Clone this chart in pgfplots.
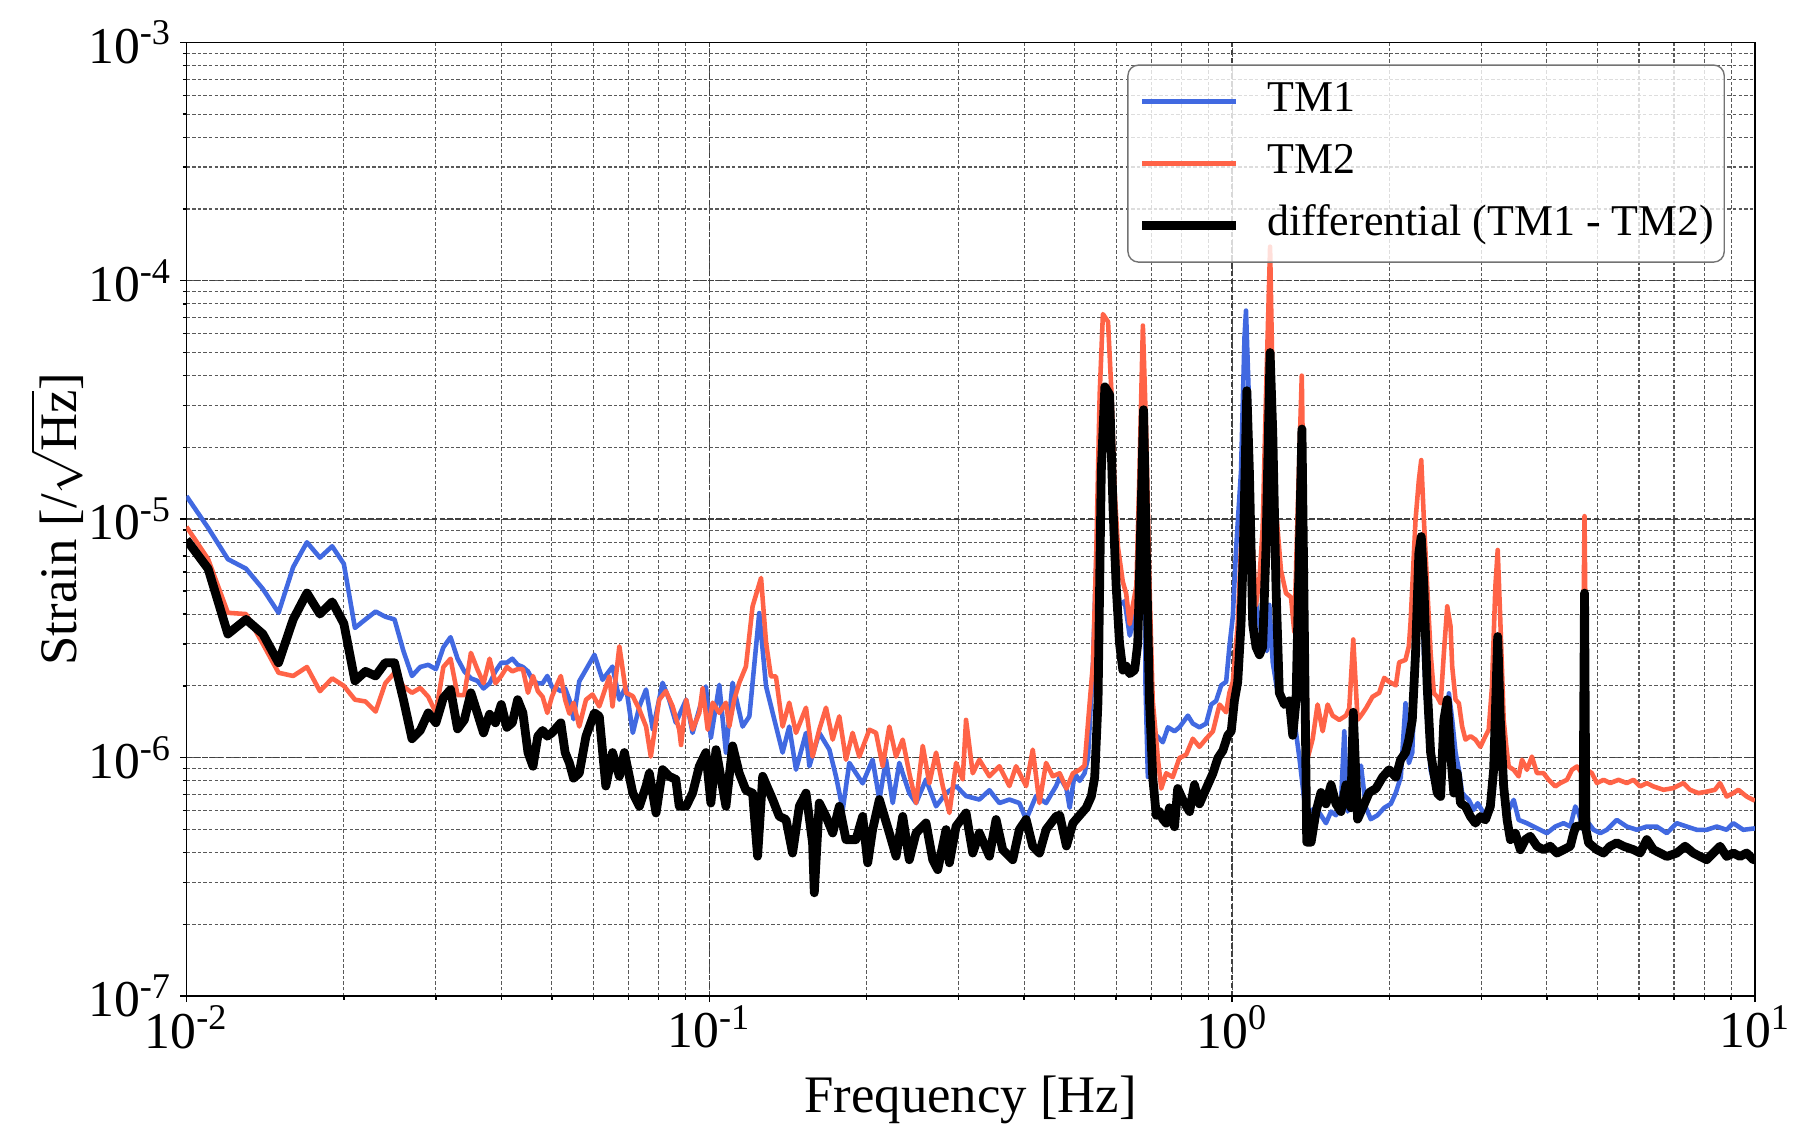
\documentclass[border=0pt]{standalone}
\usepackage{fontspec}
\setmainfont{Liberation Serif}
\usepackage{pgfplots}
\pgfplotsset{compat=1.18}

\definecolor{tmone}{RGB}{65,105,225}
\definecolor{tmtwo}{RGB}{255,99,71}

\begin{document}
\begin{tikzpicture}
\begin{axis}[
    xmode=log, ymode=log, log basis x=10, log basis y=10,
    scale only axis, width=15.685cm, height=9.537cm,
    xmin=1e-2, xmax=10, ymin=1e-7, ymax=1e-3,
    no markers,
    grid=both,
    major grid style={dash pattern=on 1.5pt off 0.75pt, black!75, line width=0.4pt},
    minor grid style={dash pattern=on 1pt off 0.6pt, black!65, line width=0.3pt},
    tick align=outside, tick pos=left,
    major tick length=0.06cm, minor tick length=0.035cm,
    axis line style={line width=0.45pt},
    every tick/.style={black, line width=0.4pt},
    xticklabel={\pgfmathtruncatemacro\ee{round(\tick)}10\textsuperscript{\ee}},
    yticklabel={\pgfmathtruncatemacro\ee{round(\tick)}10\textsuperscript{\ee}},
    ticklabel style={font=\fontsize{14.7}{18}\selectfont},
    xticklabel style={inner sep=0pt, yshift=-0.03cm},
    yticklabel style={inner sep=0pt, xshift=-0.08cm},
    xlabel={Frequency [Hz]},
    ylabel={Strain [/$\sqrt{\mbox{Hz}}$]},
    label style={font=\fontsize{15}{18}\selectfont},
    xlabel style={at={(axis description cs:0.5,-0.1217)}, anchor=base},
    ylabel style={at={(axis description cs:-0.0628,0.5)}, anchor=south, inner sep=1pt},
    legend style={at={(0.5998,0.9769)}, anchor=north west,
        draw=black!55, rounded corners=3pt, fill=white, fill opacity=0.8, text opacity=1,
        font=\fontsize{12.5}{14}\selectfont, inner xsep=0.10cm, inner ysep=0.065cm,
        row sep=0.02cm, nodes={inner xsep=0pt, inner ysep=0pt, text height=0.40cm, text depth=0.20cm}},
    legend cell align=left,
    legend image code/.code={\path[draw=none] (0cm,0cm) -- (1.25cm,0cm);\draw[#1] (0cm,0cm) -- (0.933cm,0cm);},
]
% TM1
\addplot[color=tmone, line width=1.3pt, line join=round] table {
f s
0.010 1.25e-5
0.011 9.2e-6
0.012 6.8e-6
0.013 6.2e-6
0.014 5.1e-6
0.015 4.05e-6
0.016 6.3e-6
0.017 8.0e-6
0.018 6.9e-6
0.019 7.7e-6
0.020 6.5e-6
0.021 3.5e-6
0.022 3.8e-6
0.023 4.1e-6
0.024 3.9e-6
0.025 3.8e-6
0.026 2.8e-6
0.027 2.2e-6
0.028 2.4e-6
0.029 2.45e-6
0.030 2.35e-6
0.031 2.9e-6
0.032 3.2e-6
0.033 2.6e-6
0.034 2.3e-6
0.035 2.15e-6
0.036 2.1e-6
0.037 1.95e-6
0.038 2.05e-6
0.039 2.3e-6
0.040 2.5e-6
0.041 2.5e-6
0.042 2.6e-6
0.043 2.45e-6
0.044 2.4e-6
0.045 2.3e-6
0.046 2.1e-6
0.047 2.05e-6
0.048 2.05e-6
0.049 2.2e-6
0.050 1.98e-6
0.051 1.95e-6
0.052 1.9e-6
0.053 1.95e-6
0.054 1.75e-6
0.055 1.45e-6
0.0564 2.09e-6
0.0581 2.34e-6
0.0603 2.7e-6
0.0625 2.12e-6
0.0653 2.41e-6
0.0673 1.75e-6
0.0693 1.99e-6
0.0714 1.27e-6
0.0735 1.64e-6
0.0757 1.93e-6
0.078 1.31e-6
0.0814 2.06e-6
0.0838 1.75e-6
0.0863 1.4e-6
0.0903 1.75e-6
0.0929 1.27e-6
0.0985 1.99e-6
0.1007 1.21e-6
0.1045 2.02e-6
0.1076 1.05e-6
0.1108 2.06e-6
0.1158 1.35e-6
0.1193 1.49e-6
0.1246 4.04e-6
0.1284 1.99e-6
0.1322 1.54e-6
0.1381 1.05e-6
0.1422 1.35e-6
0.1465 8.9e-7
0.1531 1.27e-6
0.1554 9.2e-7
0.1623 1.27e-6
0.1697 1.08e-6
0.1747 8.35e-7
0.18 6.05e-7
0.1853 9.5e-7
0.1965 7.8e-7
0.2053 9.8e-7
0.2115 6.67e-7
0.2178 9.8e-7
0.2243 6.45e-7
0.2309 9.5e-7
0.2413 7.1e-7
0.2486 6.45e-7
0.2597 8.1e-7
0.2715 6.25e-7
0.2837 7.1e-7
0.2965 7.6e-7
0.3098 6.9e-7
0.3285 6.67e-7
0.3434 7.3e-7
0.3588 6.45e-7
0.375 6.67e-7
0.3918 6.45e-7
0.4036 5.5e-7
0.4217 6.9e-7
0.4407 6.45e-7
0.4606 7.6e-7
0.468 8.28e-7
0.482 7.42e-7
0.489 6.16e-7
0.500 8.6e-7
0.511 7.99e-7
0.522 8.6e-7
0.530 9.96e-7
0.542 2.51e-6
0.554 1.1e-5
0.562 3.33e-5
0.574 3.59e-5
0.588 2.3e-5
0.596 7.6e-6
0.609 4.37e-6
0.623 4.53e-6
0.637 3.25e-6
0.646 3.63e-6
0.660 5.26e-6
0.670 1.1e-5
0.677 2.8e-5
0.683 2.0e-6
0.690 8.3e-7
0.700 1.2e-6
0.716 1.24e-6
0.737 1.16e-6
0.754 1.34e-6
0.776 1.29e-6
0.793 1.34e-6
0.823 1.5e-6
0.841 1.39e-6
0.866 1.34e-6
0.892 1.39e-6
0.912 1.67e-6
0.932 1.73e-6
0.953 2.01e-6
0.974 2.08e-6
0.988 2.91e-6
1.003 3.91e-6
1.018 7.6e-6
1.040 1.59e-5
1.056 5.8e-5
1.063 7.5e-5
1.076 3.33e-5
1.087 7.6e-6
1.103 4.89e-6
1.128 3.63e-6
1.148 3.02e-6
1.165 2.8e-6
1.178 4.37e-6
1.196 2.51e-6
1.222 1.87e-6
1.250 1.67e-6
1.287 1.73e-6
1.315 1.44e-6
1.345 9.96e-7
1.374 6.64e-7
1.405 5.94e-7
1.447 6.16e-7
1.479 5.73e-7
1.512 5.31e-7
1.546 5.94e-7
1.580 5.73e-7
1.615 6.4e-7
1.639 1.29e-6
1.663 5.94e-7
1.700 7.14e-7
1.738 8.28e-7
1.764 9.25e-7
1.803 6.16e-7
1.842 5.52e-7
1.897 5.73e-7
1.954 6.16e-7
2.012 6.4e-7
2.057 7.14e-7
2.102 8.28e-7
2.146 1.69e-6
2.178 9.48e-7
2.211 1.05e-6
2.243 2.74e-6
2.276 7.2e-6
2.300 6.75e-6
2.327 2.74e-6
2.361 1.44e-6
2.397 8.89e-7
2.432 7.82e-7
2.486 7.1e-7
2.541 1.05e-6
2.598 1.86e-6
2.636 1.44e-6
2.675 1.05e-6
2.715 8.89e-7
2.754 7.1e-7
2.836 6.65e-7
2.898 6.04e-7
2.949 6.44e-7
3.029 5.85e-7
3.096 6.04e-7
3.164 7.1e-7
3.211 2.74e-6
3.258 1.05e-6
3.307 7.1e-7
3.357 5.85e-7
3.456 6.65e-7
3.533 5.48e-7
3.664 5.31e-7
3.773 5.14e-7
3.885 4.98e-7
4.000 4.82e-7
4.150 5.14e-7
4.305 5.31e-7
4.434 5.14e-7
4.533 6.24e-7
4.599 5.85e-7
4.700 4.98e-7
4.806 5.31e-7
4.913 4.98e-7
5.058 4.82e-7
5.209 4.98e-7
5.442 5.48e-7
5.687 5.14e-7
5.943 4.98e-7
6.211 5.14e-7
6.491 5.14e-7
6.783 4.82e-7
7.088 5.31e-7
7.406 5.14e-7
7.739 4.98e-7
8.086 4.98e-7
8.450 5.14e-7
8.829 4.98e-7
9.090 5.31e-7
9.499 4.98e-7
10.0 5.05e-7
};
\addlegendentry{TM1}
% TM2
\addplot[color=tmtwo, line width=1.3pt, line join=round] table {
f s
0.010 9.3e-6
0.011 6.8e-6
0.012 4.05e-6
0.013 4.0e-6
0.014 3.0e-6
0.015 2.27e-6
0.016 2.2e-6
0.017 2.4e-6
0.018 1.9e-6
0.019 2.15e-6
0.020 2.0e-6
0.021 1.75e-6
0.022 1.72e-6
0.023 1.56e-6
0.024 2.05e-6
0.025 2.27e-6
0.026 1.99e-6
0.027 1.87e-6
0.028 1.96e-6
0.029 1.8e-6
0.030 1.54e-6
0.031 2.4e-6
0.032 2.6e-6
0.033 1.83e-6
0.034 1.83e-6
0.035 2.75e-6
0.036 2.35e-6
0.037 2.05e-6
0.038 2.6e-6
0.039 2.05e-6
0.040 2.2e-6
0.041 2.4e-6
0.042 2.3e-6
0.043 2.35e-6
0.044 2.35e-6
0.045 1.87e-6
0.046 2.2e-6
0.047 1.9e-6
0.048 1.8e-6
0.049 1.54e-6
0.050 1.8e-6
0.051 2.0e-6
0.052 2.2e-6
0.053 1.75e-6
0.054 1.53e-6
0.055 1.7e-6
0.0564 1.35e-6
0.0581 1.75e-6
0.0598 1.84e-6
0.0616 1.64e-6
0.0644 2.19e-6
0.0653 1.64e-6
0.0673 2.93e-6
0.0693 1.87e-6
0.0714 1.81e-6
0.0735 1.59e-6
0.0757 1.35e-6
0.0773 1.01e-6
0.0802 1.75e-6
0.0826 1.9e-6
0.0851 1.64e-6
0.0876 1.31e-6
0.0883 1.13e-6
0.0903 1.75e-6
0.0929 1.31e-6
0.0957 1.54e-6
0.0971 1.96e-6
0.0993 1.31e-6
0.1015 1.7e-6
0.1045 1.54e-6
0.1076 1.7e-6
0.1092 1.35e-6
0.1116 1.75e-6
0.1141 2.06e-6
0.1175 2.41e-6
0.121 4.31e-6
0.1256 5.67e-6
0.1284 3.03e-6
0.1312 2.19e-6
0.1341 2.19e-6
0.1381 1.35e-6
0.1422 1.7e-6
0.1465 1.27e-6
0.1531 1.62e-6
0.1576 1.01e-6
0.1623 1.31e-6
0.1672 1.62e-6
0.1722 1.19e-6
0.1773 1.49e-6
0.1826 9.8e-7
0.188 1.27e-6
0.1936 1.01e-6
0.2024 1.31e-6
0.2084 1.27e-6
0.2146 9.2e-7
0.221 1.35e-6
0.2276 1.01e-6
0.2344 1.19e-6
0.2413 8.6e-7
0.2486 6.45e-7
0.256 1.12e-6
0.2636 7.8e-7
0.2715 1.05e-6
0.2796 7.6e-7
0.2879 5.86e-7
0.2965 9.5e-7
0.3053 8.1e-7
0.3098 1.44e-6
0.3191 8.6e-7
0.3285 9.8e-7
0.3434 8.35e-7
0.3588 9.2e-7
0.375 7.6e-7
0.3862 9.2e-7
0.4036 7.6e-7
0.4156 1.08e-6
0.428 6.45e-7
0.4407 9.5e-7
0.4539 8.35e-7
0.468 8.6e-7
0.482 7.42e-7
0.496 8.6e-7
0.511 8.9e-7
0.522 9.25e-7
0.530 1.39e-6
0.542 2.51e-6
0.550 7.6e-6
0.558 3.33e-5
0.566 7.25e-5
0.579 6.73e-5
0.588 3.33e-5
0.596 1.32e-5
0.605 7.6e-6
0.618 5.46e-6
0.627 4.89e-6
0.637 3.63e-6
0.646 4.37e-6
0.656 5.26e-6
0.665 1.59e-5
0.675 6.49e-5
0.685 2.3e-5
0.695 5.26e-6
0.705 1.73e-6
0.721 9.96e-7
0.732 7.42e-7
0.748 8.6e-7
0.770 8.28e-7
0.793 9.96e-7
0.817 1.03e-6
0.841 1.2e-6
0.866 1.11e-6
0.892 1.2e-6
0.919 1.29e-6
0.946 1.67e-6
0.974 1.55e-6
0.988 1.87e-6
1.003 2.08e-6
1.025 3.63e-6
1.040 7.6e-6
1.056 1.59e-5
1.071 2.77e-5
1.095 7.6e-6
1.111 4.37e-6
1.128 5.66e-6
1.144 9.14e-6
1.161 3.33e-5
1.182 1.39e-4
1.196 3.33e-5
1.213 1.1e-5
1.240 6.1e-6
1.268 4.89e-6
1.296 4.71e-6
1.315 3.37e-6
1.335 1.1e-5
1.359 4.0e-5
1.374 7.6e-6
1.395 9.96e-7
1.426 1.2e-6
1.457 1.67e-6
1.490 1.29e-6
1.523 1.67e-6
1.557 1.5e-6
1.603 1.44e-6
1.651 1.5e-6
1.675 1.61e-6
1.705 3.13e-6
1.738 1.44e-6
1.764 1.5e-6
1.803 1.61e-6
1.856 1.8e-6
1.911 1.87e-6
1.954 2.16e-6
1.997 2.08e-6
2.057 2.01e-6
2.087 2.51e-6
2.146 2.57e-6
2.178 2.93e-6
2.194 3.67e-6
2.243 9.94e-6
2.276 1.46e-5
2.300 1.77e-5
2.327 9.94e-6
2.361 5.22e-6
2.397 2.74e-6
2.432 1.86e-6
2.468 1.8e-6
2.505 1.69e-6
2.541 2.74e-6
2.579 4.31e-6
2.617 3.55e-6
2.636 2.41e-6
2.675 1.75e-6
2.715 1.69e-6
2.754 1.35e-6
2.795 1.19e-6
2.857 1.23e-6
2.920 1.19e-6
2.985 1.11e-6
3.029 1.19e-6
3.096 1.31e-6
3.141 1.99e-6
3.188 5.22e-6
3.221 7.43e-6
3.258 3.79e-6
3.307 1.44e-6
3.346 1.11e-6
3.381 9.18e-7
3.456 8.89e-7
3.533 8.34e-7
3.585 9.8e-7
3.664 8.89e-7
3.745 1.01e-6
3.829 8.61e-7
3.942 8.61e-7
4.030 8.07e-7
4.150 7.57e-7
4.242 7.82e-7
4.369 8.07e-7
4.466 8.89e-7
4.565 9.18e-7
4.667 8.61e-7
4.721 1.03e-5
4.771 8.89e-7
4.876 8.61e-7
4.985 7.82e-7
5.133 8.07e-7
5.286 7.82e-7
5.483 8.07e-7
5.687 7.82e-7
5.857 8.07e-7
6.032 7.57e-7
6.211 7.82e-7
6.397 7.57e-7
6.683 7.33e-7
6.982 7.45e-7
7.297 7.82e-7
7.515 7.33e-7
7.795 7.1e-7
8.086 7.2e-7
8.386 7.33e-7
8.574 7.82e-7
8.829 6.87e-7
9.090 7.1e-7
9.294 7.33e-7
9.640 6.87e-7
9.927 6.65e-7
10.0 6.6e-7
};
\addlegendentry{TM2}
% differential
\addplot[color=black, line width=2.5pt, line join=round] table {
f s
0.010 8.2e-6
0.011 6.2e-6
0.012 3.3e-6
0.013 3.8e-6
0.014 3.3e-6
0.015 2.5e-6
0.016 3.8e-6
0.017 4.9e-6
0.018 4.0e-6
0.019 4.5e-6
0.020 3.65e-6
0.021 2.1e-6
0.022 2.3e-6
0.023 2.2e-6
0.024 2.5e-6
0.025 2.5e-6
0.026 1.75e-6
0.027 1.2e-6
0.028 1.3e-6
0.029 1.54e-6
0.030 1.4e-6
0.031 1.78e-6
0.032 1.93e-6
0.033 1.32e-6
0.034 1.44e-6
0.035 1.87e-6
0.036 1.54e-6
0.037 1.27e-6
0.038 1.52e-6
0.039 1.4e-6
0.040 1.67e-6
0.041 1.34e-6
0.042 1.4e-6
0.043 1.75e-6
0.044 1.54e-6
0.045 1.05e-6
0.046 9.2e-7
0.047 1.23e-6
0.048 1.3e-6
0.049 1.23e-6
0.050 1.27e-6
0.052 1.4e-6
0.053 1.05e-6
0.054 9.5e-7
0.055 8.2e-7
0.0564 8.6e-7
0.0581 1.23e-6
0.0603 1.54e-6
0.0616 1.49e-6
0.0634 7.6e-7
0.0653 1.05e-6
0.0673 8.35e-7
0.0688 1.05e-6
0.0714 7.1e-7
0.0735 6.25e-7
0.0757 7.6e-7
0.0768 8.6e-7
0.0791 5.86e-7
0.0814 8.9e-7
0.0838 8.35e-7
0.0863 8.1e-7
0.0876 6.25e-7
0.0903 6.25e-7
0.0929 7.1e-7
0.0957 9.2e-7
0.0985 1.05e-6
0.1007 6.45e-7
0.1030 1.08e-6
0.1076 6.25e-7
0.1108 1.12e-6
0.1141 8.6e-7
0.1175 7.3e-7
0.1210 7.1e-7
0.1237 3.86e-7
0.1265 8.35e-7
0.1322 6.67e-7
0.1361 5.67e-7
0.1402 5.5e-7
0.1443 3.98e-7
0.1487 6.25e-7
0.1531 7.1e-7
0.1576 4.39e-7
0.1588 2.71e-7
0.1623 6.45e-7
0.1672 5.67e-7
0.1722 4.83e-7
0.1773 6.25e-7
0.1826 4.53e-7
0.1908 4.53e-7
0.1965 5.67e-7
0.2009 3.62e-7
0.2053 4.99e-7
0.2115 6.67e-7
0.2210 4.83e-7
0.2276 3.86e-7
0.2344 5.67e-7
0.2413 3.73e-7
0.2486 4.83e-7
0.2597 5.32e-7
0.2675 3.73e-7
0.2735 3.39e-7
0.2837 4.99e-7
0.2879 3.62e-7
0.2965 5.15e-7
0.3098 5.86e-7
0.3191 3.98e-7
0.3285 4.83e-7
0.3434 3.86e-7
0.3536 5.5e-7
0.3641 4.11e-7
0.3805 3.73e-7
0.3918 4.99e-7
0.4036 5.5e-7
0.4156 4.25e-7
0.4280 3.98e-7
0.4407 4.99e-7
0.4606 5.67e-7
0.468 5.73e-7
0.482 4.26e-7
0.496 5.31e-7
0.511 5.73e-7
0.526 6.16e-7
0.538 6.89e-7
0.546 8.28e-7
0.554 1.73e-6
0.562 1.59e-5
0.571 3.59e-5
0.583 3.33e-5
0.592 1.1e-5
0.600 5.26e-6
0.609 3.02e-6
0.618 2.33e-6
0.627 2.42e-6
0.637 2.25e-6
0.651 2.33e-6
0.660 3.02e-6
0.670 1.1e-5
0.677 2.88e-5
0.685 7.6e-6
0.695 1.73e-6
0.705 8.28e-7
0.716 5.73e-7
0.726 5.94e-7
0.737 5.52e-7
0.748 5.31e-7
0.759 6.16e-7
0.776 5.13e-7
0.787 7.42e-7
0.805 6.64e-7
0.829 5.94e-7
0.847 7.69e-7
0.866 6.4e-7
0.892 7.42e-7
0.919 8.6e-7
0.939 9.96e-7
0.960 1.07e-6
0.981 1.24e-6
0.996 1.29e-6
1.010 1.73e-6
1.025 2.08e-6
1.040 3.63e-6
1.051 7.6e-6
1.067 3.46e-5
1.079 1.59e-5
1.095 3.63e-6
1.111 2.91e-6
1.128 2.7e-6
1.144 2.91e-6
1.161 7.6e-6
1.182 5.0e-5
1.196 2.3e-5
1.213 5.26e-6
1.231 1.87e-6
1.259 1.67e-6
1.287 1.73e-6
1.306 1.24e-6
1.325 1.73e-6
1.345 7.6e-6
1.360 2.39e-5
1.374 3.63e-6
1.389 4.42e-7
1.416 4.42e-7
1.447 5.94e-7
1.479 7.14e-7
1.512 6.4e-7
1.546 7.69e-7
1.580 6.4e-7
1.615 5.94e-7
1.651 7.69e-7
1.687 6.16e-7
1.705 1.55e-6
1.738 5.52e-7
1.777 6.16e-7
1.829 7.14e-7
1.884 7.42e-7
1.940 8.28e-7
1.997 8.9e-7
2.057 8.28e-7
2.100 9.8e-7
2.146 1.05e-6
2.178 1.19e-6
2.211 1.44e-6
2.243 2.74e-6
2.276 7.2e-6
2.300 8.46e-6
2.327 5.22e-6
2.361 1.99e-6
2.397 1.05e-6
2.432 8.61e-7
2.468 7.1e-7
2.505 6.87e-7
2.541 1.44e-6
2.579 1.75e-6
2.617 1.05e-6
2.655 7.1e-7
2.695 8.61e-7
2.735 6.44e-7
2.795 6.24e-7
2.857 5.66e-7
2.920 5.31e-7
2.985 5.66e-7
3.051 5.48e-7
3.118 6.24e-7
3.164 8.89e-7
3.221 3.22e-6
3.258 1.44e-6
3.307 7.57e-7
3.357 5.48e-7
3.406 4.53e-7
3.481 4.82e-7
3.559 4.11e-7
3.638 4.53e-7
3.718 4.68e-7
3.829 4.25e-7
3.942 4.11e-7
4.060 4.25e-7
4.180 3.98e-7
4.305 4.11e-7
4.434 4.25e-7
4.499 4.82e-7
4.545 5.14e-7
4.690 5.2e-7
4.721 4.9e-6
4.750 5.0e-7
4.806 4.39e-7
4.985 4.11e-7
5.133 3.98e-7
5.286 4.25e-7
5.442 4.39e-7
5.606 4.25e-7
5.857 4.11e-7
6.032 3.98e-7
6.211 4.53e-7
6.397 4.11e-7
6.585 3.98e-7
6.783 3.85e-7
7.088 3.98e-7
7.352 4.25e-7
7.625 3.98e-7
7.852 3.85e-7
8.086 3.73e-7
8.325 3.98e-7
8.574 4.25e-7
8.829 3.85e-7
9.090 3.98e-7
9.363 3.85e-7
9.640 3.98e-7
9.927 3.73e-7
10.0 3.8e-7
};
\addlegendentry{differential (TM1 - TM2)}
\coordinate (bbSW) at (rel axis cs:-0.1189,-0.1363);
\coordinate (bbNE) at (rel axis cs:1.0300,1.0444);
\end{axis}
\pgfresetboundingbox
\path[use as bounding box] (bbSW) rectangle (bbNE);
\end{tikzpicture}
\end{document}
